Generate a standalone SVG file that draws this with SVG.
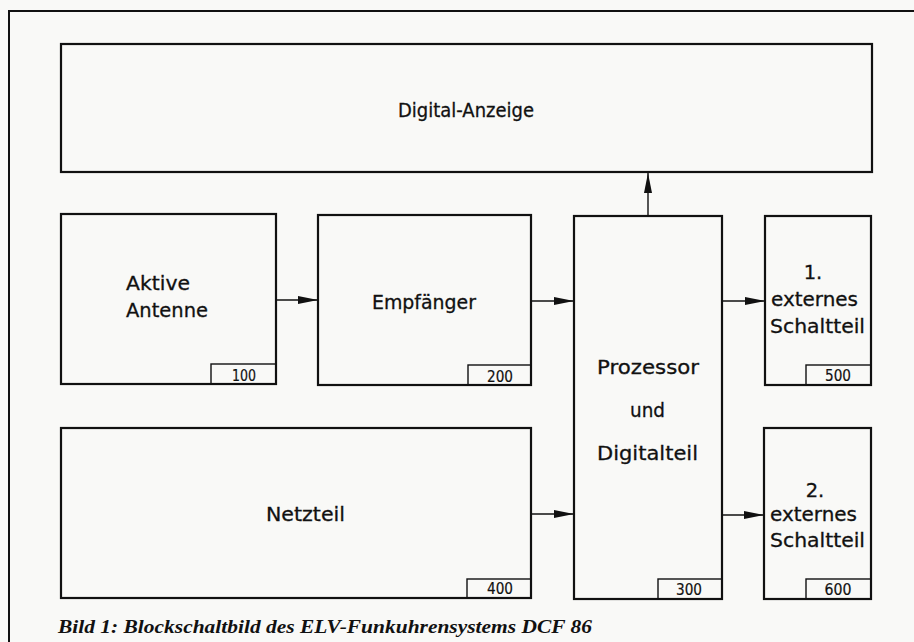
<svg xmlns="http://www.w3.org/2000/svg" width="914" height="642" viewBox="0 0 914 642">
<style>
.bg{fill:#f9f9f7}
.box{fill:none;stroke:#111;stroke-width:2.2}
.tag{fill:none;stroke:#111;stroke-width:1.4}
.lbl{font-family:"DejaVu Sans","Liberation Sans",sans-serif;font-size:19.5px;fill:#111;stroke:#111;stroke-width:0.3}
.num{font-family:"DejaVu Sans","Liberation Sans",sans-serif;font-size:15px;fill:#111;text-anchor:middle;stroke:#111;stroke-width:0.2}
.cap{font-family:"Liberation Serif","Times New Roman",serif;font-size:18px;font-weight:bold;font-style:italic;fill:#111}
.con{stroke:#111;stroke-width:1.4;fill:none;marker-end:url(#ah)}
</style>
<defs>
<marker id="ah" markerUnits="userSpaceOnUse" markerWidth="21" markerHeight="9" refX="20" refY="4" orient="auto">
<path d="M0,0 L20,4 L0,8 z" fill="#111"/>
</marker>
</defs>
<rect class="bg" x="0" y="0" width="914" height="642"/>
<path id="frame" d="M9,642 V11 H914" fill="none" stroke="#111" stroke-width="2"/>

<g id="anzeige">
<rect class="box" x="61" y="44" width="811" height="128"/>
<text class="lbl" x="398" y="117" textLength="136" lengthAdjust="spacingAndGlyphs">Digital-Anzeige</text>
</g>

<g id="antenne">
<rect class="box" x="61" y="214" width="215" height="170"/>
<rect class="tag" x="211" y="364" width="65" height="20"/>
<text class="lbl" x="126" y="290" textLength="64" lengthAdjust="spacingAndGlyphs">Aktive</text>
<text class="lbl" x="126" y="317" textLength="82" lengthAdjust="spacingAndGlyphs">Antenne</text>
<text class="num" x="244" y="381" textLength="24" lengthAdjust="spacingAndGlyphs">100</text>
</g>

<g id="empfaenger">
<rect class="box" x="318" y="215" width="213" height="170"/>
<rect class="tag" x="468" y="365" width="63" height="20"/>
<text class="lbl" x="372" y="309" textLength="104" lengthAdjust="spacingAndGlyphs">Empfänger</text>
<text class="num" x="500" y="382" textLength="26" lengthAdjust="spacingAndGlyphs">200</text>
</g>

<g id="netzteil">
<rect class="box" x="61" y="428" width="470" height="170"/>
<rect class="tag" x="467" y="579" width="64" height="19"/>
<text class="lbl" x="266" y="521" textLength="79" lengthAdjust="spacingAndGlyphs">Netzteil</text>
<text class="num" x="500" y="594" textLength="26" lengthAdjust="spacingAndGlyphs">400</text>
</g>

<g id="prozessor">
<rect class="box" x="574" y="216" width="148" height="383"/>
<rect class="tag" x="658" y="579" width="64" height="20"/>
<text class="lbl" x="597" y="374" textLength="102" lengthAdjust="spacingAndGlyphs">Prozessor</text>
<text class="lbl" x="630" y="417" textLength="35" lengthAdjust="spacingAndGlyphs">und</text>
<text class="lbl" x="597" y="460" textLength="101" lengthAdjust="spacingAndGlyphs">Digitalteil</text>
<text class="num" x="689" y="595" textLength="26" lengthAdjust="spacingAndGlyphs">300</text>
</g>

<g id="extern1">
<rect class="box" x="765" y="216" width="106" height="169"/>
<rect class="tag" x="806" y="365" width="65" height="20"/>
<text class="lbl" x="813" y="279" text-anchor="middle">1.</text>
<text class="lbl" x="771" y="306" textLength="87" lengthAdjust="spacingAndGlyphs">externes</text>
<text class="lbl" x="770" y="333" textLength="95" lengthAdjust="spacingAndGlyphs">Schaltteil</text>
<text class="num" x="838" y="381" textLength="26" lengthAdjust="spacingAndGlyphs">500</text>
</g>

<g id="extern2">
<rect class="box" x="764" y="428" width="107" height="171"/>
<rect class="tag" x="806" y="579" width="65" height="20"/>
<text class="lbl" x="815" y="497" text-anchor="middle">2.</text>
<text class="lbl" x="770" y="521" textLength="87" lengthAdjust="spacingAndGlyphs">externes</text>
<text class="lbl" x="770" y="547" textLength="95" lengthAdjust="spacingAndGlyphs">Schaltteil</text>
<text class="num" x="838" y="595" textLength="27" lengthAdjust="spacingAndGlyphs">600</text>
</g>

<g id="connectors">
<line class="con" x1="276" y1="300" x2="318" y2="300"/>
<line class="con" x1="531" y1="301" x2="574" y2="301"/>
<line class="con" x1="722" y1="301" x2="765" y2="301"/>
<line class="con" x1="531" y1="514" x2="574" y2="514"/>
<line class="con" x1="722" y1="515" x2="764" y2="515"/>
<line class="con" x1="648" y1="216" x2="648" y2="173"/>
</g>

<text id="caption" class="cap" x="58" y="633" textLength="534" lengthAdjust="spacingAndGlyphs">Bild 1: Blockschaltbild des ELV-Funkuhrensystems DCF 86</text>
</svg>
